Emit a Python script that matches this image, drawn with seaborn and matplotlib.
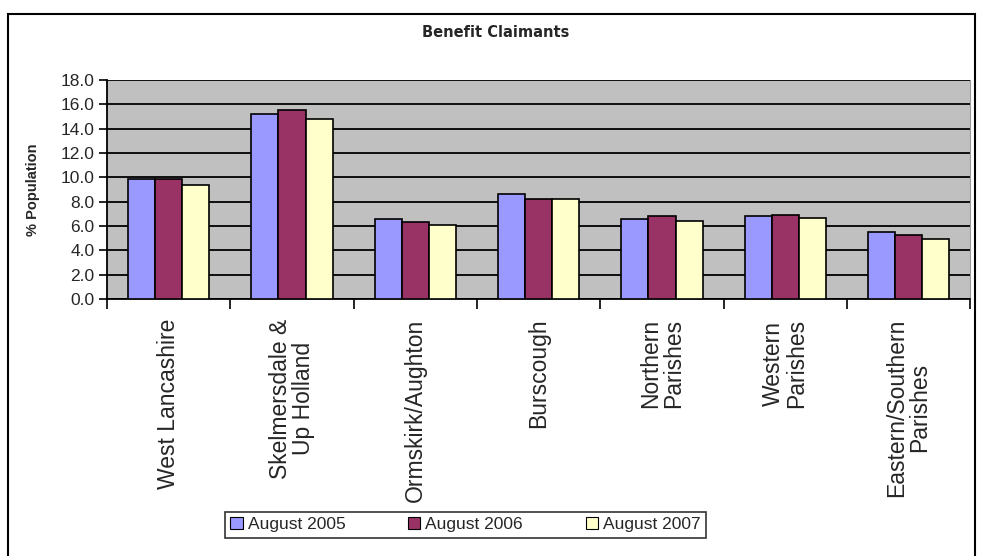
import numpy as np
import pandas as pd
import seaborn as sns
import matplotlib.pyplot as plt
from matplotlib.patches import Rectangle
from matplotlib.ticker import FixedLocator, FormatStrFormatter

# data
areas = ['West Lancashire', 'Skelmersdale &\nUp Holland', 'Ormskirk/Aughton',
         'Burscough', 'Northern\nParishes', 'Western\nParishes',
         'Eastern/Southern\nParishes']
aug_2005 = [9.9, 15.2, 6.6, 8.6, 6.6, 6.8, 5.5]
aug_2006 = [9.9, 15.5, 6.3, 8.2, 6.8, 6.9, 5.3]
aug_2007 = [9.4, 14.8, 6.1, 8.2, 6.4, 6.7, 4.9]
series = ['August 2005', 'August 2006', 'August 2007']
colours = ['#9999FF', '#993366', '#FFFFCC']

rows = []
for nome, vals in zip(series, [aug_2005, aug_2006, aug_2007]):
    for a, v in zip(areas, vals):
        rows.append({'Area': a, 'Period': nome, 'Value': v})
df = pd.DataFrame(rows)

sns.set_style('white')
plt.rcParams['font.family'] = ['Liberation Sans', 'DejaVu Sans']

fig = plt.figure(figsize=(9.82, 5.56), dpi=100)
ax = fig.add_axes([0.109, 0.462, 0.879, 0.394])
ax.set_facecolor('#C0C0C0')

sns.barplot(data=df, x='Area', y='Value', hue='Period', palette=colours,
            saturation=1, width=0.66, edgecolor='black', linewidth=1.2, ax=ax,
            legend=False, zorder=3)

ax.set_ylim(0, 18)
ax.set_xlim(-0.5, len(areas) - 0.5)
ax.set_yticks(np.arange(0, 18.1, 2))
ax.yaxis.set_major_formatter(FormatStrFormatter('%.1f'))
ax.grid(axis='y', color='black', linewidth=1.3, zorder=1)
ax.set_axisbelow(True)

# ticks between categories like the old excel charts
ax.xaxis.set_minor_locator(FixedLocator(np.arange(-0.5, len(areas), 1)))
ax.tick_params(axis='x', which='major', length=0, pad=14)
ax.tick_params(axis='x', which='minor', length=7, width=1.2, color='black',
               direction='out', bottom=True)
ax.tick_params(axis='y', length=6, width=1.2, color='black', direction='out',
               left=True, labelsize=12.5, pad=3)
plt.setp(ax.get_xticklabels(), rotation=90, fontsize=16.5, ha='center', va='top',
         linespacing=1.0)

for s in ['left', 'bottom']:
    ax.spines[s].set_color('black')
    ax.spines[s].set_linewidth(1.3)
ax.spines['right'].set_color('#999999')
ax.spines['top'].set_visible(False)

ax.set_xlabel('')
ax.set_ylabel('% Population', fontsize=10.5, fontweight='bold', labelpad=15)

fig.text(0.505, 0.942, 'Benefit Claimants', ha='center', va='center',
         fontsize=10.5, fontweight='bold', family=['DejaVu Sans'])

handles = [Rectangle((0, 0), 1, 1, facecolor=c, edgecolor='black', linewidth=0.8)
           for c in colours]
leg = fig.legend(handles, series, ncol=3, loc='center',
                 bbox_to_anchor=(0.474, 0.056), fontsize=12.5, frameon=True,
                 fancybox=False, edgecolor='black', handlelength=0.7,
                 handleheight=0.7, handletextpad=0.3, columnspacing=3.6,
                 borderpad=0.3, borderaxespad=0)
leg.get_frame().set_linewidth(1.2)

# outer chart frame
fig.patches.append(Rectangle((0.008, -0.01), 0.985, 0.985, transform=fig.transFigure,
                             fill=False, edgecolor='black', linewidth=1.5))

plt.savefig('out.png', format='png', dpi=100)
plt.close()
